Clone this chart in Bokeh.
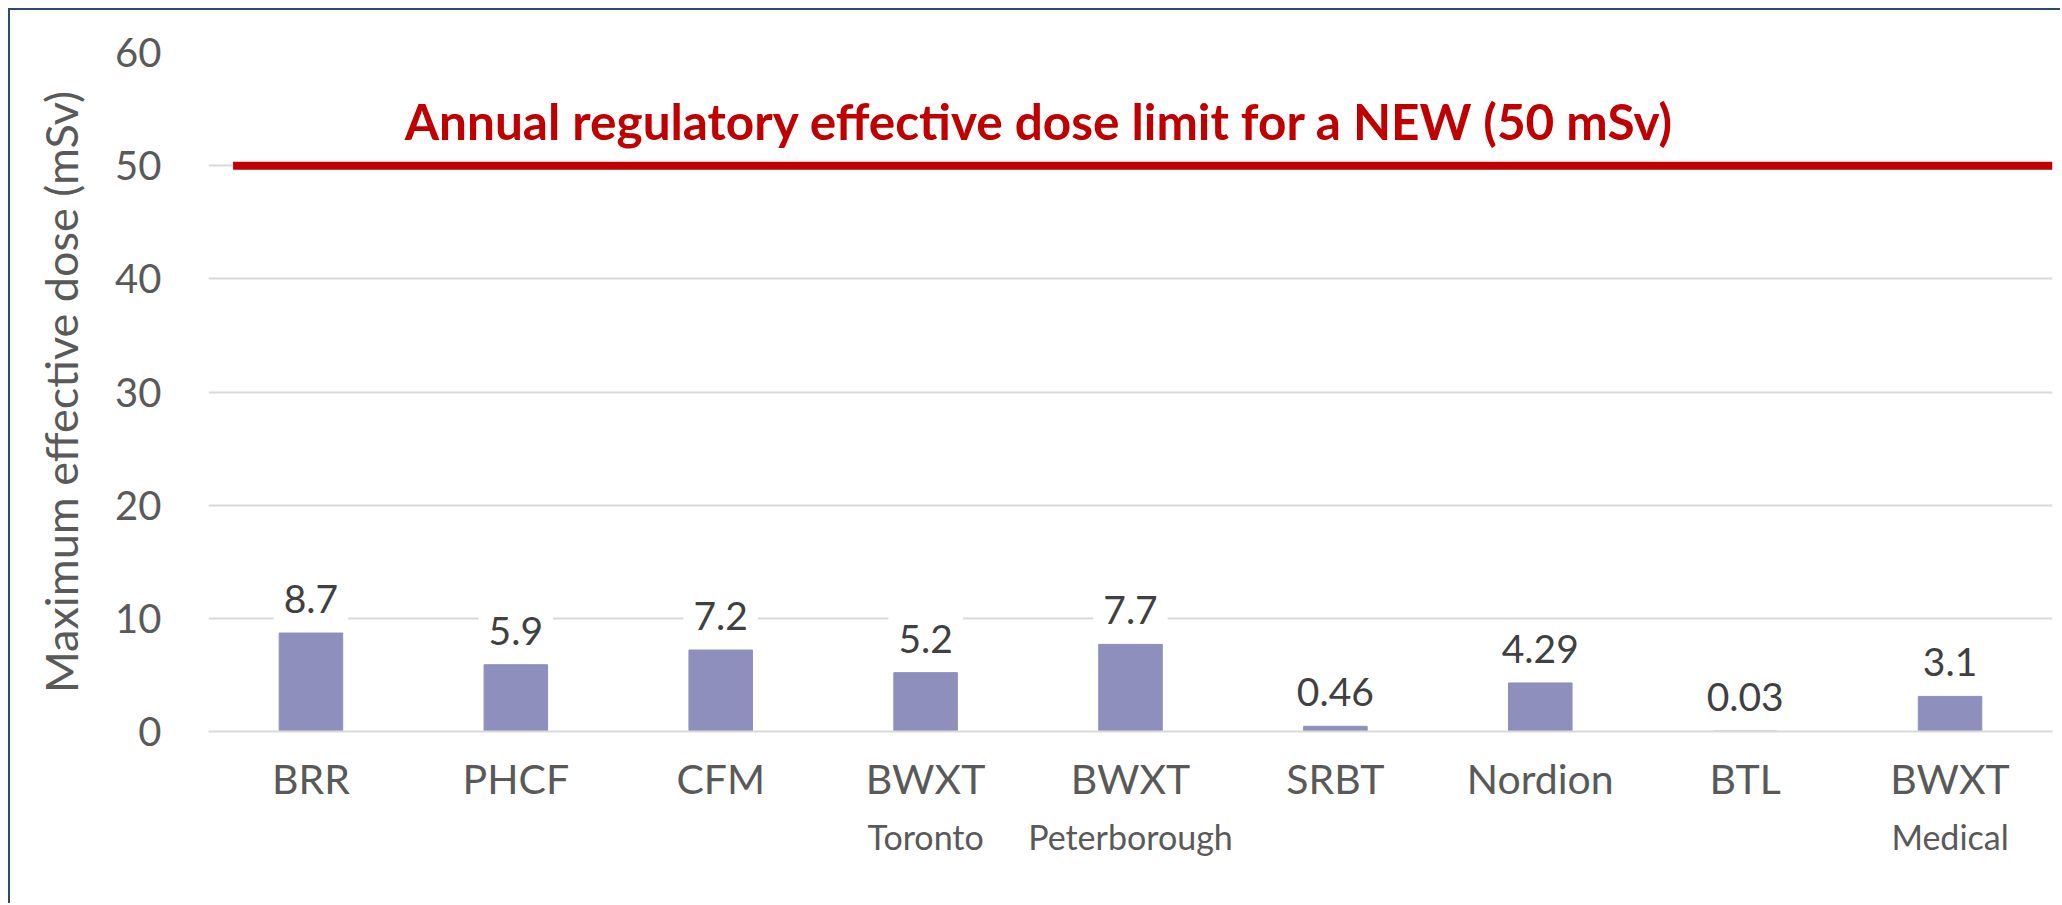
from bokeh.plotting import figure
from bokeh.models import Range1d, FixedTicker, ColumnDataSource, Label, LinearAxis
from bokeh.core.properties import value
from bokeh.embed import file_html
from bokeh.resources import INLINE

# ---- data ----
categories = ["BRR", "PHCF", "CFM", "BWXT", "BWXT", "SRBT", "Nordion", "BTL", "BWXT"]
sublabels = ["", "", "", "Toronto", "Peterborough", "", "", "", "Medical"]
doses = [8.7, 5.9, 7.2, 5.2, 7.7, 0.46, 4.29, 0.03, 3.1]
dose_labels = ["8.7", "5.9", "7.2", "5.2", "7.7", "0.46", "4.29", "0.03", "3.1"]
y_ticks = [0, 10, 20, 30, 40, 50, 60]
limit = 50
limit_text = "Annual regulatory effective dose limit for a NEW (50 mSv)"
y_label = "Maximum effective dose (mSv)"

FONT = "Lato"
GRAY = "#595959"
DARK = "#404040"
RED = "#C00000"
BAR = "#8E8FBC"
GRID = "#D9D9D9"

xs = [i + 0.5 for i in range(len(categories))]

p = figure(width=2052, height=895, output_backend="svg", toolbar_location=None,
           x_range=Range1d(0, len(categories)), y_range=Range1d(0, 60),
           min_border_left=198, min_border_right=10, min_border_top=42, min_border_bottom=174)
p.styles = {"margin-left": "8px", "margin-top": "8px",
            "border-left": "2px solid #2E4A6B", "border-top": "2px solid #2E4A6B"}
p.outline_line_color = None
p.background_fill_color = "white"
p.border_fill_color = "white"

# grid
p.xgrid.grid_line_color = None
p.ygrid.grid_line_color = GRID
p.ygrid.grid_line_width = 2
p.ygrid.ticker = FixedTicker(ticks=y_ticks)

# y axis
p.yaxis.ticker = FixedTicker(ticks=y_ticks)
p.yaxis.axis_line_color = None
p.yaxis.major_tick_line_color = None
p.yaxis.minor_tick_line_color = None
p.yaxis.major_tick_out = 0
p.yaxis.major_tick_in = 0
p.yaxis.major_label_standoff = 47
p.yaxis.major_label_text_font = FONT
p.yaxis.major_label_text_font_size = "40px"
p.yaxis.major_label_text_color = GRAY
p.yaxis.axis_label = y_label
p.yaxis.axis_label_text_font = FONT
p.yaxis.axis_label_text_font_size = "45px"
p.yaxis.axis_label_text_font_style = "normal"
p.yaxis.axis_label_text_color = GRAY
p.yaxis.axis_label_standoff = 24

# x axis (category names)
p.xaxis.ticker = FixedTicker(ticks=xs)
p.xaxis.major_label_overrides = {x: c for x, c in zip(xs, categories)}
p.xaxis.axis_line_color = GRID
p.xaxis.axis_line_width = 2
p.xaxis.major_tick_line_color = None
p.xaxis.minor_tick_line_color = None
p.xaxis.major_tick_out = 0
p.xaxis.major_tick_in = 0
p.xaxis.major_label_standoff = 22
p.xaxis.major_label_text_font = FONT
p.xaxis.major_label_text_font_size = "41px"
p.xaxis.major_label_text_color = GRAY

# second x axis row (site names)
sub_x = [x for x, s in zip(xs, sublabels) if s]
sub_t = [s for s in sublabels if s]
ax2 = LinearAxis(ticker=FixedTicker(ticks=sub_x),
                 major_label_overrides={x: s for x, s in zip(sub_x, sub_t)},
                 axis_line_color=None, major_tick_line_color=None,
                 minor_tick_line_color=None, major_tick_out=0, major_tick_in=0,
                 major_label_standoff=10, major_label_text_font=FONT,
                 major_label_text_font_size="34px", major_label_text_color=GRAY)
p.add_layout(ax2, "below")

src = ColumnDataSource(dict(x=xs, top=doses, lab=dose_labels))

# bars
p.vbar(x="x", top="top", width=0.31, source=src, fill_color=BAR, line_color=BAR)

# data labels
p.text(x="x", y="top", text="lab", source=src, text_align="center",
       text_baseline="alphabetic", y_offset=-34,
       text_font=value(FONT), text_font_size="39px", text_color=DARK,
       background_fill_color="white", padding=10)

# limit line and text
p.segment(x0=[0.12], y0=[limit], x1=[len(categories)], y1=[limit],
          line_color=RED, line_width=8)
lt = Label(x=0.958, y=limit, y_offset=45, text=limit_text, text_align="left",
           text_baseline="alphabetic", text_font=FONT, text_font_size="49.5px",
           text_font_style="bold", text_color=RED)
p.add_layout(lt)

open("out.html", "w").write(file_html(p, INLINE))
